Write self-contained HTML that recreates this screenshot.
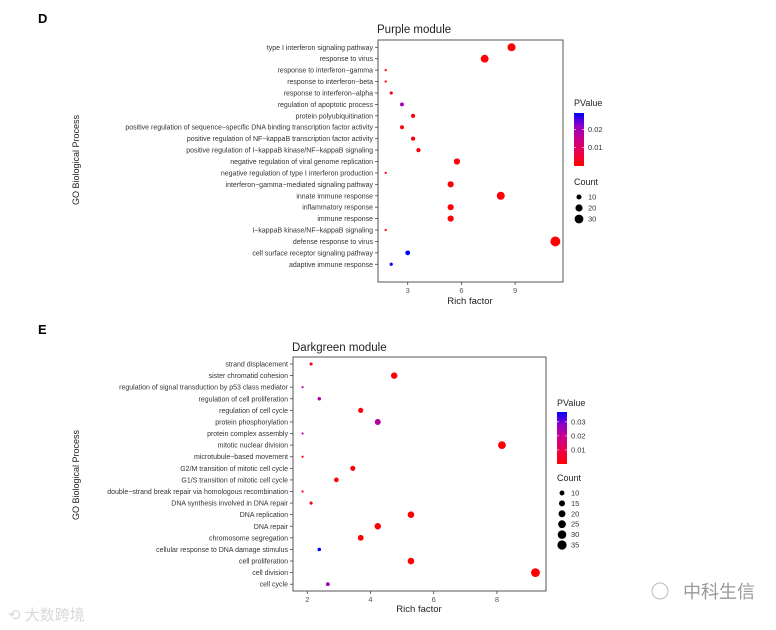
<!DOCTYPE html>
<html><head><meta charset="utf-8">
<style>
html,body{margin:0;padding:0;background:#fff;}
svg{display:block;font-family:"Liberation Sans","Noto Sans CJK SC",sans-serif;}
</style></head>
<body>
<svg id="root" width="776" height="630" viewBox="0 0 776 630" xmlns="http://www.w3.org/2000/svg">
  <defs>
    <linearGradient id="gradD" x1="0" y1="1" x2="0" y2="0">
      <stop offset="0" stop-color="#ff0000"/>
      <stop offset="0.25" stop-color="#ec0048"/>
      <stop offset="0.5" stop-color="#cc0088"/>
      <stop offset="0.75" stop-color="#9400c4"/>
      <stop offset="1" stop-color="#0000ff"/>
    </linearGradient>
  </defs>
  <text x="38" y="23" font-size="13" font-weight="bold" fill="#000">D</text>
  <text x="38" y="334" font-size="13" font-weight="bold" fill="#000">E</text>
  <g id="chartD"></g>
  <g id="chartE"></g>
  <text x="8" y="620" font-size="15" fill="#d8d8d8">⟲ 大数跨境</text>
  <g>
    <circle cx="660" cy="591" r="8" fill="none" stroke="#bbb" stroke-width="1"/>
    <text x="683" y="598" font-size="18" fill="#999">中科生信</text>
  </g>
</svg>
<script>
// ---- Chart D data ----
const dTerms = ["type I interferon signaling pathway","response to virus","response to interferon\u2212gamma","response to interferon\u2212beta","response to interferon\u2212alpha","regulation of apoptotic process","protein polyubiquitination","positive regulation of sequence\u2212specific DNA binding transcription factor activity","positive regulation of NF\u2212kappaB transcription factor activity","positive regulation of I\u2212kappaB kinase/NF\u2212kappaB signaling","negative regulation of viral genome replication","negative regulation of type I interferon production","interferon\u2212gamma\u2212mediated signaling pathway","innate immune response","inflammatory response","immune response","I\u2212kappaB kinase/NF\u2212kappaB signaling","defense response to virus","cell surface receptor signaling pathway","adaptive immune response"];
const dRich = [8.8,7.3,1.77,1.77,2.08,2.68,3.3,2.68,3.3,3.6,5.75,1.77,5.4,8.2,5.4,5.4,1.77,11.25,3.0,2.08];
const dCount = [25,24,2,2,4,6,7,6,7,7,15,2,15,25,15,15,2,38,9,4];
const dPval = [0.0005,0.0005,0.002,0.002,0.002,0.02,0.001,0.001,0.001,0.001,0.0005,0.002,0.0005,0.0005,0.0005,0.0005,0.002,0.0003,0.029,0.029];
const dTicks = [3,6,9];
const dPTicks = [0.01,0.02];
const dCountLegend = [10,20,30];

// ---- Chart E data ----
const eTerms = ["strand displacement","sister chromatid cohesion","regulation of signal transduction by p53 class mediator","regulation of cell proliferation","regulation of cell cycle","protein phosphorylation","protein complex assembly","mitotic nuclear division","microtubule\u2212based movement","G2/M transition of mitotic cell cycle","G1/S transition of mitotic cell cycle","double\u2212strand break repair via homologous recombination","DNA synthesis involved in DNA repair","DNA replication","DNA repair","chromosome segregation","cellular response to DNA damage stimulus","cell proliferation","cell division","cell cycle"];
const eRich = [2.12,4.75,1.85,2.38,3.69,4.23,1.85,8.16,1.85,3.44,2.92,1.85,2.12,5.28,4.23,3.69,2.38,5.28,9.22,2.65];
const eCount = [4,17,2,5,11,15,2,25,2,11,9,2,4,18,17,14,5,18,32,6];
const ePval = [0.003,0.001,0.022,0.022,0.001,0.022,0.022,0.0005,0.004,0.001,0.001,0.004,0.003,0.0005,0.0005,0.0005,0.037,0.0005,0.0003,0.025];
const eTicks = [2,4,6,8];
const ePTicks = [0.01,0.02,0.03];
const eCountLegend = [10,15,20,25,30,35];

const NS = "http://www.w3.org/2000/svg";
const STOPS = [[0,[255,0,0]],[0.25,[236,0,72]],[0.5,[204,0,136]],[0.75,[148,0,196]],[1,[0,0,255]]];
function mk(parent, tag, attrs, text){
  const el = document.createElementNS(NS, tag);
  for (const k in attrs) el.setAttribute(k, attrs[k]);
  if (text !== undefined) el.textContent = text;
  parent.appendChild(el);
  return el;
}
function colorFor(p, pmax){
  const t = Math.max(0, Math.min(1, p / pmax));
  for (let i=1;i<STOPS.length;i++){
    if (t <= STOPS[i][0]){
      const [a,ca] = STOPS[i-1], [b,cb] = STOPS[i];
      const f = (t-a)/(b-a);
      const c = ca.map((v,k)=>Math.round(v+(cb[k]-v)*f));
      return `rgb(${c[0]},${c[1]},${c[2]})`;
    }
  }
  return 'rgb(0,0,255)';
}

function drawChart(g, cfg){
  const {terms,rich,count,pval,ticks,pticks,countLeg,box,x0,xs,rowTop,rowStep,title,titleX,titleY,
         ytitleX,ytitleY,xtitleX,xtitleY,leg,pmax,rScale,gradId} = cfg;
  const xScale = v => x0 + v*xs;
  const yScale = i => rowTop + i*rowStep;
  const rOf = c => rScale*Math.sqrt(c);

  const t = mk(g,'text',{x:titleX,y:titleY,'font-size':11.5,fill:'#222'},title);
  
  

  const frame = mk(g,'rect',{x:box.l,y:box.t,width:box.r-box.l,height:box.b-box.t,fill:'#fff',stroke:'#555','stroke-width':1});
  
  

  terms.forEach((term,i)=>{
    const y = yScale(i);
    mk(g,'line',{x1:box.l-3,x2:box.l,y1:y,y2:y,stroke:'#444','stroke-width':0.8});
    const lab = mk(g,'text',{x:box.l-5,y:y+2.5,'font-size':7,fill:'#333','text-anchor':'end'},term);
    
    
  });

  ticks.forEach(v=>{
    const x = xScale(v);
    mk(g,'line',{x1:x,x2:x,y1:box.b,y2:box.b+3,stroke:'#444','stroke-width':0.8});
    const lab = mk(g,'text',{x:x,y:box.b+11,'font-size':7.5,fill:'#555','text-anchor':'middle'},String(v));
    
    
  });

  const xt = mk(g,'text',{x:xtitleX,y:xtitleY,'font-size':9.5,fill:'#222','text-anchor':'middle'},'Rich factor');
  
  
  const yt = mk(g,'text',{x:ytitleX,y:ytitleY,'font-size':9,fill:'#222','text-anchor':'middle',transform:`rotate(-90 ${ytitleX} ${ytitleY})`},'GO Biological Process');
  
  

  terms.forEach((term,i)=>{
    const c = mk(g,'circle',{cx:xScale(rich[i]),cy:yScale(i),r:rOf(count[i]),fill:colorFor(pval[i],pmax)});
    
    
  });

  const lt = mk(g,'text',{x:leg.x,y:leg.ptitleY,'font-size':9,fill:'#222'},'PValue');
  
  
  const bar = mk(g,'rect',{x:leg.x,y:leg.barTop,width:10,height:leg.barBot-leg.barTop,fill:`url(#${gradId})`});
  
  
  const pScale = p => leg.barBot - (p/pmax)*(leg.barBot-leg.barTop);
  pticks.forEach(p=>{
    const y = pScale(p);
    mk(g,'line',{x1:leg.x,x2:leg.x+2,y1:y,y2:y,stroke:'#fff','stroke-width':0.6});
    mk(g,'line',{x1:leg.x+8,x2:leg.x+10,y1:y,y2:y,stroke:'#fff','stroke-width':0.6});
    const l = mk(g,'text',{x:leg.x+14,y:y+2.5,'font-size':7.5,fill:'#333'},String(p));
    
    
  });
  const ct = mk(g,'text',{x:leg.x,y:leg.ctitleY,'font-size':9,fill:'#222'},'Count');
  
  
  countLeg.forEach((c,i)=>{
    const y = leg.cTop + i*leg.cStep;
    const d = mk(g,'circle',{cx:leg.x+5,cy:y,r:rOf(c),fill:'#000'});
    
    
    mk(g,'text',{x:leg.x+14,y:y+2.5,'font-size':7.5,fill:'#333'},String(c));
  });
}

drawChart(document.getElementById('chartD'),{
  terms:dTerms,rich:dRich,count:dCount,pval:dPval,ticks:dTicks,pticks:dPTicks,countLeg:dCountLegend,
  box:{l:378,r:563,t:40,b:282},x0:354,xs:17.9,rowTop:47.3,rowStep:11.42,
  title:'Purple module',titleX:377,titleY:33,ytitleX:79,ytitleY:160,xtitleX:470,xtitleY:304,
  leg:{x:574,ptitleY:106,barTop:113,barBot:166,ctitleY:185,cTop:197,cStep:11},
  pmax:0.029,rScale:0.8,gradId:'gradD'
});
drawChart(document.getElementById('chartE'),{
  terms:eTerms,rich:eRich,count:eCount,pval:ePval,ticks:eTicks,pticks:ePTicks,countLeg:eCountLegend,
  box:{l:293,r:546,t:357,b:591},x0:244.1,xs:31.6,rowTop:364,rowStep:11.59,
  title:'Darkgreen module',titleX:292,titleY:351,ytitleX:79,ytitleY:475,xtitleX:419,xtitleY:612,
  leg:{x:557,ptitleY:406,barTop:412,barBot:464,ctitleY:481,cTop:493,cStep:10.4},
  pmax:0.037,rScale:0.78,gradId:'gradD'
});
</script>
</body></html>
